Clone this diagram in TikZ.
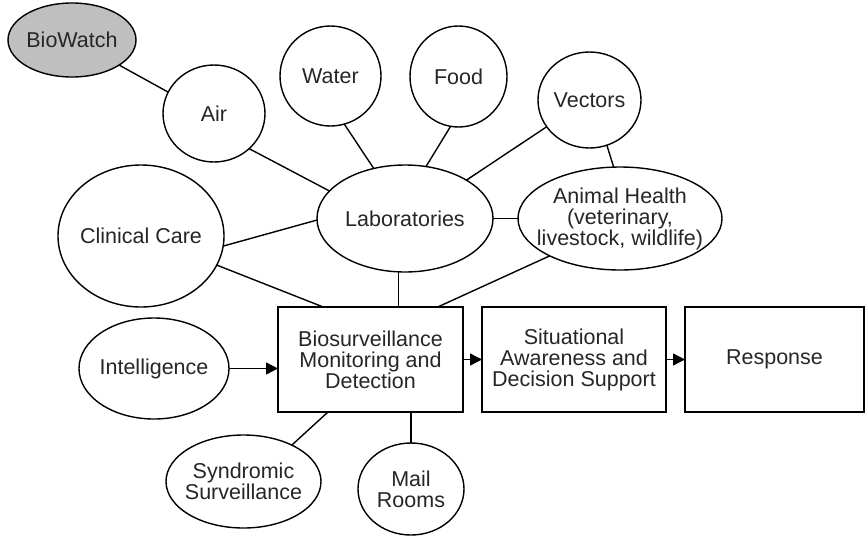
\documentclass[tikz,border=0pt]{standalone}
\usepackage{fontspec}
\setmainfont{Liberation Sans}
\usetikzlibrary{shapes.geometric,arrows.meta}
\begin{document}
\begin{tikzpicture}[x=1pt,y=-1pt,
  every node/.style={font=\fontsize{21.5}{21}\selectfont, text=black!85},
  oval/.style={draw, ellipse, line width=1.4pt, inner sep=0pt, outer sep=0pt, fill=white},
  lbl/.style={align=center, inner sep=0pt},
  stage/.style={draw, rectangle, line width=1.4pt, inner sep=0pt, outer sep=0pt, align=center,
    minimum width=185pt, minimum height=105pt},
  link/.style={line width=1.4pt},
  flow/.style={line width=1.4pt, -{Triangle[length=12pt,width=12pt]}}
]
\useasboundingbox (0,0) rectangle (865,536);

\node[oval, fill=gray!50, minimum width=128pt, minimum height=74pt, label={[lbl]center:BioWatch}] (bw) at (72,40) {};
\node[oval, minimum width=102pt, minimum height=97pt, label={[lbl]center:Air}] (air) at (214,113.5) {};
\node[oval, minimum width=101pt, minimum height=100pt, label={[lbl]center:Water}] (water) at (330.5,76) {};
\node[oval, minimum width=97pt, minimum height=101pt, label={[lbl]center:Food}] (food) at (458.5,76.5) {};
\node[oval, minimum width=103pt, minimum height=96pt, label={[lbl]center:Vectors}] (vectors) at (589.5,100) {};
\node[oval, minimum width=166pt, minimum height=142pt, label={[lbl]center:Clinical Care}] (clinical) at (141,236) {};
\node[oval, minimum width=176pt, minimum height=107pt, label={[lbl]center:Laboratories}] (lab) at (405,218.5) {};
\node[oval, minimum width=204pt, minimum height=103pt, label={[lbl]center:Animal Health\\(veterinary,\\livestock, wildlife)}] (animal) at (620,218.5) {};
\node[oval, minimum width=150pt, minimum height=101pt, label={[lbl]center:Intelligence}] (intel) at (154,368.5) {};
\node[oval, minimum width=155pt, minimum height=93pt, label={[lbl]center:Syndromic\\Surveillance}] (synd) at (243.5,481.5) {};
\node[oval, minimum width=106pt, minimum height=92pt, label={[lbl]center:Mail\\Rooms}] (mail) at (411,489) {};

\node[stage] (bms) at (370.5,359.5) {Biosurveillance\\Monitoring and\\Detection};
\node[stage, minimum width=184pt] (situ) at (574,359.5) {Situational\\Awareness and\\Decision Support};
\node[stage, minimum width=179pt] (resp) at (774.5,359.5) {Response};

\draw[link] (bw.-28) -- (air.155);
\draw[link] (air.-45) -- (lab.160.1);
\draw[link] (water.-74.3) -- (lab.122.9);
\draw[link] (food.261.6) -- (lab.68.6);
\draw[link] (vectors.212.4) -- (lab.32.7);
\draw[link] (vectors.-69.2) -- (animal.97.7);
\draw[link] (lab.east) -- (animal.west);
\draw[link] (clinical.-7.5) -- (lab.181.6);
\draw[link] (clinical.-21.3) -- (bms.132.7);
\draw[link] (lab.263.1) -- (lab.263.1 |- bms.north);
\draw[link] (animal.208.1) -- (bms.38.3);
\draw[link] (synd.37.7) -- (bms.231);
\draw[link] (mail.north) -- (mail.north |- bms.south);

\draw[flow] (intel.east) -- (intel.east -| bms.west);
\draw[flow] (bms.east) -- (situ.west);
\draw[flow] (situ.east) -- (resp.west);
\end{tikzpicture}
\end{document}
